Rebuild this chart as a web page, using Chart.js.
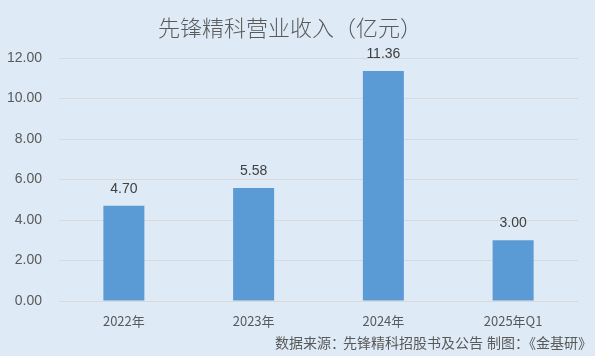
<!DOCTYPE html>
<html><head><meta charset="utf-8">
<script src="https://cdn.jsdelivr.net/npm/chart.js@4/dist/chart.umd.min.js"></script>
<style>html,body{margin:0;padding:0;background:#DEEAF6;}#wrap{width:595px;height:356px;}</style>
</head><body><div id="wrap"><canvas id="c" width="595" height="356"></canvas></div>
<script>
const categories = ["2022年", "2023年", "2024年", "2025年Q1"];
const revenue = [4.70, 5.58, 11.36, 3.00];
const yTicks = [0, 2, 4, 6, 8, 10, 12];
const titleText = "先锋精科营业收入（亿元）";
const sourceParts = ["数据来源：", "先锋精科招股书及公告", "制图：《金基研》"];

const FONT = "'Noto Sans CJK SC', 'Liberation Sans', sans-serif";

const overlay = {
  id: 'overlay',
  beforeDraw(chart) {
    const ctx = chart.ctx;
    ctx.save();
    ctx.fillStyle = '#DEEAF6';
    ctx.fillRect(0, 0, chart.width, chart.height);
    ctx.restore();
  },
  afterDraw(chart) {
    const ctx = chart.ctx;
    ctx.save();
    ctx.fillStyle = '#595959';
    ctx.font = "300 22px " + FONT;
    ctx.textAlign = 'center';
    ctx.textBaseline = 'middle';
    ctx.fillText(titleText, 290, 28);
    ctx.font = "14px " + FONT;
    ctx.textAlign = 'left';
    const xs = [275, 343, 487];
    sourceParts.forEach((t, i) => ctx.fillText(t, xs[i], 343));
    const meta = chart.getDatasetMeta(0);
    ctx.fillStyle = '#404040';
    ctx.font = "14px 'Liberation Sans', sans-serif";
    ctx.textAlign = 'center';
    meta.data.forEach((bar, i) => {
      ctx.fillText(revenue[i].toFixed(2), bar.x, bar.y - 17);
    });
    ctx.restore();
  }
};

new Chart(document.getElementById('c'), {
  type: 'bar',
  data: {
    labels: categories,
    datasets: [{
      data: revenue,
      backgroundColor: '#5B9BD5',
      borderWidth: 0,
      categoryPercentage: 1,
      barPercentage: 0.316
    }]
  },
  options: {
    responsive: false,
    animation: false,
    layout: { padding: { top: 58, right: 17, bottom: 25, left: 0 } },
    plugins: { legend: { display: false }, tooltip: { enabled: false } },
    scales: {
      x: {
        grid: { display: false },
        border: { display: false },
        ticks: { color: '#595959', font: { size: 13, family: FONT }, padding: 4 },
        afterFit(scale) { scale.height = 30; }
      },
      y: {
        min: 0, max: 12,
        afterBuildTicks(scale) { scale.ticks = yTicks.map(v => ({ value: v })); },
        grid: { color: '#D9D9D9', lineWidth: 1, drawTicks: false },
        border: { display: false },
        ticks: {
          color: '#595959',
          font: { size: 14, family: "'Liberation Sans', sans-serif" },
          padding: 17,
          callback: v => Number(v).toFixed(2)
        },
        afterFit(scale) { scale.width = 59; }
      }
    }
  },
  plugins: [overlay]
});
</script>
</body></html>
